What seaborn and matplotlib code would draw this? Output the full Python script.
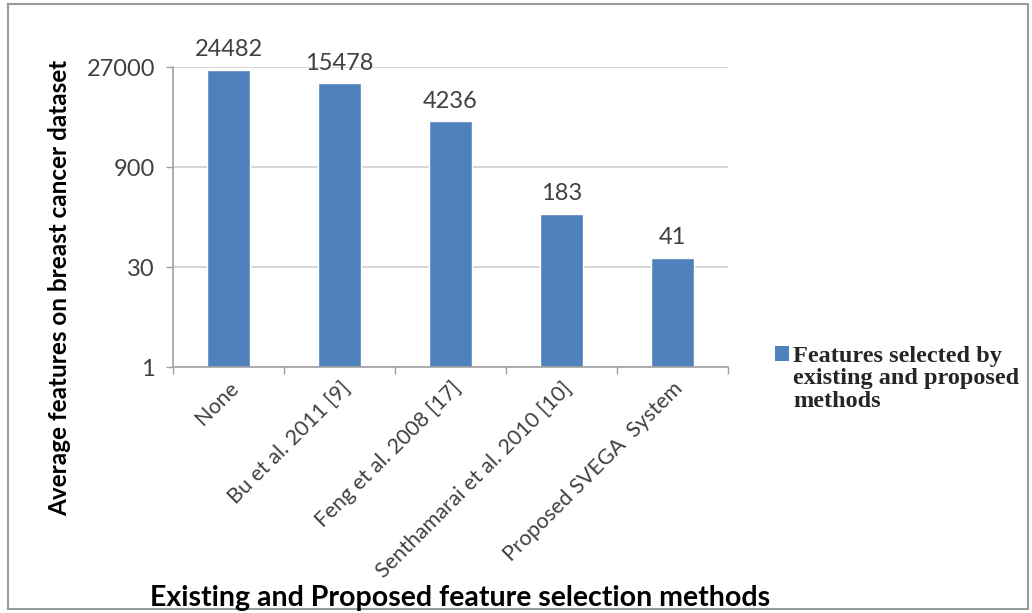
import matplotlib.pyplot as plt
import numpy as np
import pandas as pd
import seaborn as sns
from matplotlib.patches import Patch, Rectangle
from matplotlib.ticker import FixedLocator, NullLocator

methods = [
    "None",
    "Bu et al. 2011 [9]",
    "Feng et al. 2008 [17]",
    "Senthamarai et al. 2010 [10]",
    "Proposed SVEGA  System",
]
features = [24482, 15478, 4236, 183, 41]
y_ticks = [1, 30, 900, 27000]
y_tick_labels = ["1", "30", "900", "27000"]
legend_lines = ["Features selected by", "existing and proposed", "methods"]

BAR_COLOR = "#4F81BD"
TEXT_COLOR = "#404040"
GRID_COLOR = "#D0D0D0"
SANS = ["Lato", "DejaVu Sans"]
SERIF = ["Liberation Serif", "DejaVu Serif"]


def main():
    sns.set_theme(style="white")
    plt.rcParams["font.family"] = SANS

    df = pd.DataFrame({"method": methods, "features": features})

    fig = plt.figure(figsize=(10.32, 6.13), dpi=100)
    ax = fig.add_axes([173 / 1032, 1 - 367 / 613, 555 / 1032, 300 / 613])

    sns.barplot(data=df, x="method", y="features", color=BAR_COLOR,
                width=0.39, saturation=1, ax=ax)
    ax.set_yscale("log", base=30)
    ax.set_ylim(1, 27000)
    ax.set_xlim(-0.5, len(methods) - 0.5)

    ax.yaxis.set_major_locator(FixedLocator(y_ticks))
    ax.yaxis.set_minor_locator(NullLocator())
    ax.set_yticklabels(y_tick_labels)
    ax.yaxis.grid(True, color=GRID_COLOR, linewidth=1.2)
    ax.set_axisbelow(True)

    # category boundary ticks like a spreadsheet chart
    ax.xaxis.set_minor_locator(FixedLocator(np.arange(-0.5, len(methods), 1.0)))
    ax.tick_params(axis="x", which="major", length=0, pad=8)
    ax.tick_params(axis="x", which="minor", length=5, color="#A0A0A0", width=1, bottom=True)
    ax.tick_params(axis="y", which="major", length=5, color="#A0A0A0", width=1, left=True,
                   labelsize=17, labelcolor=TEXT_COLOR, pad=8)
    ax.set_xticks(range(len(methods)))
    ax.set_xticklabels(methods, rotation=45, ha="right", rotation_mode="anchor",
                       fontsize=15.5, color=TEXT_COLOR)

    for side in ["top", "right"]:
        ax.spines[side].set_visible(False)
    for side in ["left", "bottom"]:
        ax.spines[side].set_color("#A0A0A0")
        ax.spines[side].set_linewidth(1.2)

    for i, v in enumerate(features):
        ax.annotate(str(v), (i, v), xytext=(0, 7), textcoords="offset points",
                    ha="center", va="bottom", fontsize=17, color=TEXT_COLOR)

    ax.set_xlabel("")
    ax.set_ylabel("")
    fig.text(60 / 1032, 1 - 288 / 613, "Average features on breast cancer dataset",
             rotation=90, ha="center", va="center", fontsize=17.5, fontweight="bold",
             color="black", family=SANS)
    fig.text(460 / 1032, 1 - 598 / 613, "Existing and Proposed feature selection methods",
             ha="center", va="center", fontsize=20.5, fontweight="bold",
             color="black", family=SANS)

    handles = [Patch(facecolor=BAR_COLOR, edgecolor="none")]
    handles += [Patch(facecolor="none", edgecolor="none") for _ in legend_lines[1:]]
    fig.legend(handles, legend_lines,
               loc="upper left", bbox_to_anchor=(763 / 1032, 1 - 334 / 613),
               frameon=False, handlelength=0.55, handleheight=0.55, handletextpad=0.2,
               labelspacing=0.05, borderpad=0,
               prop={"family": SERIF, "weight": "bold", "size": 17.5})

    fig.patches.append(Rectangle((8 / 1032, 4 / 613), 1020 / 1032, 605 / 613,
                                 transform=fig.transFigure, fill=False,
                                 edgecolor="#9A9A9A", linewidth=1.5))

    fig.savefig("out.png", dpi=100)
    plt.close(fig)


if __name__ == "__main__":
    main()
